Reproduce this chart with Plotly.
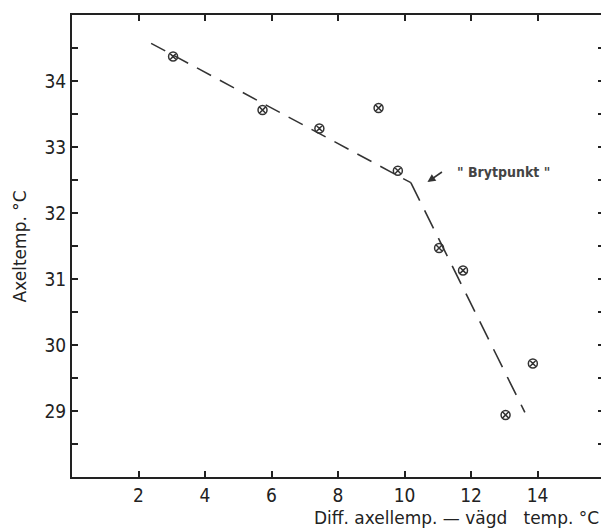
import plotly.graph_objects as go

# data
pt_x = [3.04, 5.73, 7.44, 9.22, 9.80, 11.04, 11.76, 13.04, 13.86]
pt_y = [34.37, 33.56, 33.28, 33.59, 32.64, 31.47, 31.13, 28.94, 29.72]

seg1_x = [2.38, 10.19]
seg1_y = [34.57, 32.46]
seg2_x = [10.19, 13.62]
seg2_y = [32.46, 28.98]

break_x = 10.69
break_y = 32.47
break_label = '" Brytpunkt "'

x_tickvals = [2, 4, 6, 8, 10, 12, 14]
x_ticktext = ["2", "4", "6", "8", "10", "12", "14"]
y_tickvals = [28.5, 29, 29.5, 30, 30.5, 31, 31.5, 32, 32.5, 33, 33.5, 34, 34.5]
y_ticktext = ["", "29", "", "30", "", "31", "", "32", "", "33", "", "34", ""]

x_title = "Diff. axellemp. \u2014 v\u00e4gd\u00a0\u00a0\u00a0temp. \u00b0C"
y_title = "Axeltemp. \u00b0C"

ink = "#222222"
tickfont = dict(family="Liberation Sans Narrow, DejaVu Sans Condensed", size=19, color=ink)
titlefont = dict(family="DejaVu Sans", size=17, color=ink)

fig = go.Figure()
fig.add_trace(go.Scatter(x=seg1_x, y=seg1_y, mode="lines",
                         line=dict(color="#333333", width=1.5, dash="16px,10px"),
                         hoverinfo="skip", showlegend=False))
fig.add_trace(go.Scatter(x=seg2_x, y=seg2_y, mode="lines",
                         line=dict(color="#333333", width=1.6, dash="20px,11px"),
                         hoverinfo="skip", showlegend=False))
fig.add_trace(go.Scatter(x=pt_x, y=pt_y, mode="markers",
                         marker=dict(symbol="circle-x-open", size=9,
                                     color="#333333", line=dict(width=1.5, color="#333333")),
                         showlegend=False))

fig.add_annotation(x=break_x, y=break_y, xref="x", yref="y", text="",
                   showarrow=True, arrowhead=2, arrowsize=1, arrowwidth=1.6,
                   arrowcolor="#333333", ax=16, ay=-11)
fig.add_annotation(x=break_x, y=break_y, xref="x", yref="y", text="<b>" + break_label + "</b>",
                   showarrow=False, xanchor="left", yanchor="middle",
                   xshift=28, yshift=10,
                   font=dict(family="DejaVu Sans Condensed", size=14, color="#444444"))

fig.add_annotation(x=0.995, y=-0.089, xref="paper", yref="paper", text=x_title,
                   showarrow=False, xanchor="right", yanchor="middle",
                   font=titlefont)
fig.add_annotation(x=-0.097, y=0.5, xref="paper", yref="paper", text=y_title,
                   showarrow=False, xanchor="center", yanchor="middle", textangle=-90,
                   font=titlefont)

fig.update_xaxes(range=[0, 16], tickvals=x_tickvals, ticktext=x_ticktext,
                 ticks="inside", ticklen=6, tickwidth=1.5, tickcolor=ink,
                 showline=True, linewidth=2, linecolor=ink, mirror="ticks",
                 showgrid=False, zeroline=False, tickfont=tickfont)
fig.update_yaxes(range=[28, 35], tickvals=y_tickvals, ticktext=y_ticktext,
                 ticks="inside", ticklen=6, tickwidth=1.5, tickcolor=ink,
                 showline=True, linewidth=2, linecolor=ink, mirror="ticks",
                 showgrid=False, zeroline=False, tickfont=tickfont)

# the page adds an 8px body margin, so the figure is sized to fit inside the window
fig.update_layout(width=601, height=520, margin=dict(l=64, r=3, t=7, b=51),
                  plot_bgcolor="white", paper_bgcolor="white", showlegend=False)

fig.write_html("out.html")
